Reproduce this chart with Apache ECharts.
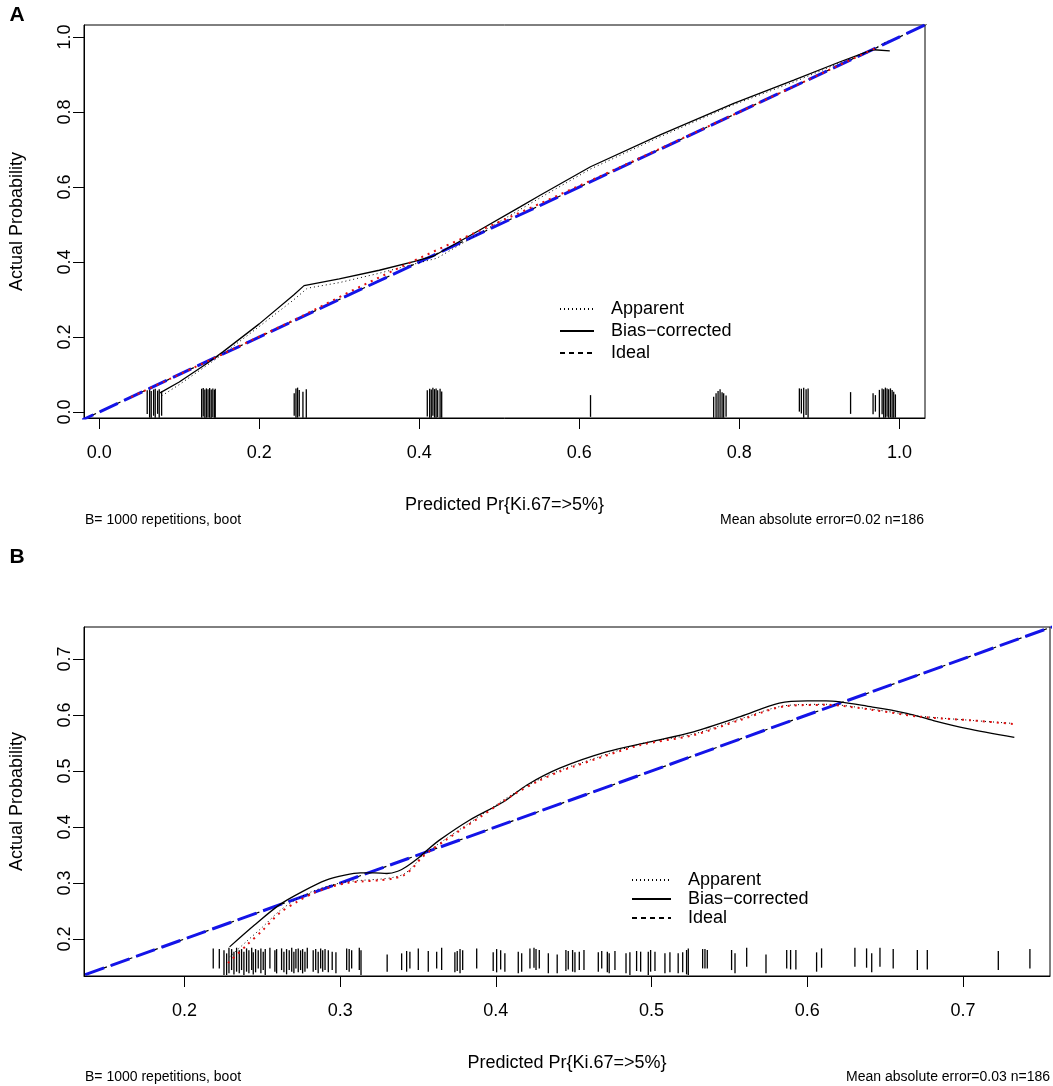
<!DOCTYPE html>
<html>
<head>
<meta charset="utf-8">
<title>Calibration curves</title>
<script src="https://cdn.jsdelivr.net/npm/echarts@6/dist/echarts.min.js"></script>
<style>
  html, body { margin: 0; padding: 0; background: #fff; }
  #chart { width: 1053px; height: 1086px; }
</style>
</head>
<body>
<div id="chart"></div>
<script>
// tick labels
const ticksA = [0, 0.2, 0.4, 0.6, 0.8, 1.0];
const ticksB = [0.2, 0.3, 0.4, 0.5, 0.6, 0.7];

// panel A: [predicted, actual]
const apparentA = [
  [0.078, 0.043], [0.10, 0.073], [0.135, 0.125], [0.155, 0.155], [0.20, 0.228],
  [0.243, 0.299], [0.26, 0.33], [0.30, 0.345], [0.35, 0.37], [0.396, 0.396],
  [0.422, 0.41], [0.47, 0.47], [0.526, 0.54], [0.55, 0.57], [0.614, 0.648],
  [0.70, 0.733], [0.79, 0.817], [0.868, 0.88], [0.93, 0.935], [0.96, 0.958], [0.986, 0.99]
];
const biasA = [
  [0.076, 0.051], [0.10, 0.08], [0.135, 0.130], [0.155, 0.161], [0.20, 0.235],
  [0.243, 0.312], [0.256, 0.337], [0.30, 0.355], [0.35, 0.378], [0.393, 0.401],
  [0.418, 0.416], [0.468, 0.476], [0.526, 0.547], [0.551, 0.578], [0.614, 0.654],
  [0.701, 0.739], [0.793, 0.823], [0.868, 0.885], [0.926, 0.934], [0.96, 0.961],
  [0.968, 0.966], [0.988, 0.963]
];
const redA = [
  [0.04, 0.04], [0.15, 0.15], [0.25, 0.252], [0.32, 0.328], [0.38, 0.39],
  [0.43, 0.44], [0.48, 0.488], [0.55, 0.555], [0.65, 0.652], [0.8, 0.8], [0.97, 0.97]
];
const idealA = [-0.03, 1.05];
// rug: [x, bottom, top]
const rugA = [
  [0.060, -0.005, 0.058], [0.063, -0.015, 0.061], [0.065, -0.015, 0.056], [0.068, -0.010, 0.060],
  [0.070, -0.015, 0.062], [0.073, -0.005, 0.057], [0.075, -0.015, 0.061], [0.078, -0.010, 0.055],
  [0.128, -0.015, 0.062], [0.130, -0.012, 0.064], [0.132, -0.015, 0.060], [0.134, -0.015, 0.063],
  [0.136, -0.014, 0.061], [0.138, -0.015, 0.064], [0.140, -0.015, 0.060], [0.142, -0.013, 0.063],
  [0.144, -0.015, 0.059], [0.145, -0.015, 0.062],
  [0.2437, -0.010, 0.050], [0.2459, -0.015, 0.063], [0.2479, -0.015, 0.065], [0.2500, -0.012, 0.059],
  [0.2546, -0.015, 0.054], [0.2588, -0.015, 0.061],
  [0.410, -0.012, 0.058], [0.413, -0.015, 0.062], [0.415, -0.015, 0.060], [0.417, -0.010, 0.065],
  [0.419, -0.015, 0.061], [0.421, -0.015, 0.063], [0.423, -0.014, 0.058], [0.426, -0.015, 0.062],
  [0.428, -0.015, 0.055],
  [0.614, -0.013, 0.045],
  [0.7679, -0.015, 0.041], [0.7709, -0.015, 0.050], [0.7734, -0.015, 0.056], [0.7759, -0.015, 0.061],
  [0.7784, -0.015, 0.053], [0.7804, -0.015, 0.050], [0.7834, -0.0125, 0.044],
  [0.8750, 0.001, 0.063], [0.8775, -0.004, 0.062], [0.8804, -0.015, 0.065], [0.8834, -0.008, 0.061],
  [0.8859, -0.015, 0.063],
  [0.939, -0.005, 0.053],
  [0.9671, -0.006, 0.050], [0.9700, 0.001, 0.045], [0.9750, -0.015, 0.059], [0.9784, -0.006, 0.063],
  [0.9804, -0.015, 0.061], [0.9825, -0.015, 0.065], [0.9846, -0.0125, 0.063], [0.9866, -0.015, 0.061],
  [0.9888, -0.015, 0.063], [0.9909, -0.015, 0.059], [0.9929, -0.015, 0.054], [0.9950, -0.015, 0.047]
];

// panel B
const apparentB = [
  [0.229, 0.168], [0.240, 0.196], [0.250, 0.221], [0.261, 0.250], [0.272, 0.271],
  [0.283, 0.286], [0.294, 0.296], [0.304, 0.302], [0.315, 0.305], [0.326, 0.307],
  [0.334, 0.310], [0.341, 0.316], [0.347, 0.330], [0.353, 0.349], [0.368, 0.379],
  [0.390, 0.420], [0.411, 0.459], [0.428, 0.485], [0.441, 0.501], [0.450, 0.510],
  [0.4925, 0.548], [0.527, 0.566], [0.557, 0.593], [0.587, 0.617], [0.612, 0.619],
  [0.642, 0.610], [0.672, 0.598], [0.707, 0.590], [0.732, 0.585]
];
const biasB = [
  [0.229, 0.186], [0.245, 0.225], [0.261, 0.261], [0.276, 0.285], [0.291, 0.305],
  [0.303, 0.314], [0.313, 0.318], [0.322, 0.318], [0.330, 0.317], [0.337, 0.321],
  [0.343, 0.330], [0.350, 0.344], [0.356, 0.359], [0.364, 0.377], [0.383, 0.412],
  [0.405, 0.445], [0.420, 0.475], [0.441, 0.505], [0.471, 0.534], [0.499, 0.552],
  [0.527, 0.570], [0.557, 0.597], [0.582, 0.621], [0.600, 0.625], [0.612, 0.625],
  [0.642, 0.614], [0.664, 0.603], [0.681, 0.590], [0.702, 0.576], [0.733, 0.560]
];
const redB = [
  [0.228, 0.157], [0.240, 0.189], [0.250, 0.215], [0.261, 0.246], [0.272, 0.266],
  [0.283, 0.282], [0.294, 0.293], [0.304, 0.300], [0.315, 0.303], [0.326, 0.305],
  [0.334, 0.308], [0.341, 0.314], [0.347, 0.328], [0.353, 0.347], [0.368, 0.377],
  [0.390, 0.418], [0.411, 0.457], [0.428, 0.483], [0.441, 0.499], [0.450, 0.508],
  [0.4925, 0.546], [0.527, 0.564], [0.557, 0.591], [0.587, 0.616], [0.612, 0.618],
  [0.642, 0.609], [0.672, 0.597], [0.707, 0.590], [0.732, 0.584]
];
const idealB = [0.12, 0.77];
const rugB = [
  [0.2185, 0.1476, 0.1833], [0.2224, 0.1476, 0.1821], [0.2254, 0.1357, 0.1798], [0.2271, 0.1357, 0.1744],
  [0.2286, 0.1387, 0.1845], [0.2303, 0.1446, 0.1821], [0.2318, 0.1369, 0.1774], [0.2335, 0.1417, 0.1845],
  [0.2352, 0.1387, 0.1798], [0.2367, 0.1446, 0.1821], [0.2382, 0.1357, 0.1774], [0.2399, 0.1417, 0.1833],
  [0.2414, 0.1387, 0.1798], [0.2432, 0.1446, 0.1845], [0.2442, 0.1369, 0.1762], [0.2457, 0.1405, 0.1821],
  [0.2474, 0.1476, 0.1798], [0.2491, 0.1387, 0.1833], [0.2506, 0.1446, 0.1774], [0.2519, 0.1357, 0.1821],
  [0.2549, 0.1476, 0.1845], [0.2581, 0.1417, 0.1798], [0.2592, 0.1387, 0.1821], [0.2624, 0.1446, 0.1833],
  [0.2639, 0.1405, 0.1774], [0.2656, 0.1369, 0.1821], [0.2673, 0.1446, 0.1798], [0.2689, 0.1417, 0.1845],
  [0.2703, 0.1387, 0.1774], [0.2716, 0.1476, 0.1821], [0.2731, 0.1405, 0.1833], [0.2746, 0.1446, 0.1798],
  [0.2759, 0.1387, 0.1821], [0.2774, 0.1417, 0.1774], [0.2789, 0.1476, 0.1845], [0.2827, 0.1417, 0.1798],
  [0.2843, 0.1446, 0.1821], [0.2859, 0.1387, 0.1774], [0.2875, 0.1476, 0.1833], [0.2888, 0.1417, 0.1798],
  [0.2903, 0.1446, 0.1821], [0.2924, 0.1405, 0.1798], [0.2949, 0.1446, 0.1774], [0.2973, 0.1387, 0.1762],
  [0.3042, 0.1446, 0.1833], [0.3058, 0.1417, 0.1821], [0.3074, 0.1476, 0.1798], [0.3123, 0.1446, 0.1845],
  [0.3134, 0.1357, 0.1798], [0.3302, 0.1417, 0.1726], [0.3395, 0.1446, 0.1744], [0.3427, 0.1417, 0.1786],
  [0.3448, 0.1476, 0.1774], [0.3502, 0.1446, 0.1833], [0.3566, 0.1417, 0.1786], [0.3620, 0.1476, 0.1774],
  [0.3652, 0.1446, 0.1845], [0.3737, 0.1405, 0.1762], [0.3752, 0.1429, 0.1786], [0.3770, 0.1387, 0.1821],
  [0.3787, 0.1446, 0.1798], [0.3877, 0.1476, 0.1833], [0.3983, 0.1429, 0.1762], [0.4005, 0.1405, 0.1821],
  [0.4031, 0.1458, 0.1798], [0.4058, 0.1417, 0.1744], [0.4144, 0.1387, 0.1774],
  [0.4166, 0.1417, 0.1744], [0.4219, 0.1476, 0.1833], [0.4245, 0.1488, 0.1845], [0.4258, 0.1446, 0.1821],
  [0.4279, 0.1476, 0.1804], [0.4337, 0.1387, 0.1744], [0.4394, 0.1387, 0.1726], [0.4450, 0.1429, 0.1804],
  [0.4465, 0.1458, 0.1786], [0.4493, 0.1417, 0.1804], [0.4508, 0.1405, 0.1762], [0.4536, 0.1446, 0.1774],
  [0.4566, 0.1446, 0.1804], [0.4658, 0.1417, 0.1762], [0.4680, 0.1476, 0.1786], [0.4716, 0.1405, 0.1774],
  [0.4728, 0.1387, 0.1744], [0.4765, 0.1446, 0.1786], [0.4836, 0.1387, 0.1744], [0.4861, 0.1357, 0.1762],
  [0.4904, 0.1429, 0.1786], [0.4930, 0.1417, 0.1774], [0.4979, 0.1357, 0.1774], [0.4994, 0.1417, 0.1804],
  [0.5022, 0.1429, 0.1774], [0.5086, 0.1387, 0.1744], [0.5118, 0.1405, 0.1762], [0.5171, 0.1387, 0.1744],
  [0.5200, 0.1405, 0.1762], [0.5225, 0.1369, 0.1804], [0.5236, 0.1357, 0.1833], [0.5328, 0.1476, 0.1821],
  [0.5343, 0.1476, 0.1821], [0.5358, 0.1476, 0.1804], [0.5514, 0.1446, 0.1804], [0.5536, 0.1387, 0.1744],
  [0.5611, 0.1506, 0.1845], [0.5735, 0.1387, 0.1726], [0.5868, 0.1476, 0.1804], [0.5893, 0.1458, 0.1804],
  [0.5927, 0.1458, 0.1804], [0.6060, 0.1417, 0.1762], [0.6092, 0.1488, 0.1833], [0.6306, 0.1506, 0.1845],
  [0.6381, 0.1488, 0.1833], [0.6414, 0.1405, 0.1744], [0.6467, 0.1506, 0.1845], [0.6552, 0.1476, 0.1821],
  [0.6707, 0.1446, 0.1804], [0.6771, 0.1458, 0.1804], [0.7227, 0.1446, 0.1786], [0.7430, 0.1476, 0.1821]
];

const FONT = '"Liberation Sans", Arial, sans-serif';
const BLUE = '#1414e8';
const RED = '#e01010';
const LEGEND = ['Apparent', 'Bias\u2212corrected', 'Ideal'];

function rugItem(params, api) {
  const p0 = api.coord([api.value(0), api.value(1)]);
  const p1 = api.coord([api.value(0), api.value(2)]);
  return {
    type: 'line',
    shape: { x1: p0[0], y1: p0[1], x2: p1[0], y2: p1[1] },
    style: { stroke: '#000', lineWidth: 1.3 }
  };
}

function makeAxis(gi, range, ticks, type, name, nameGap) {
  const isX = type === 'x';
  return {
    gridIndex: gi,
    type: 'value',
    min: range[0],
    max: range[1],
    axisLine: { show: true, onZero: false, lineStyle: { color: '#000', width: 1 } },
    axisTick: { show: true, length: 11, customValues: ticks, lineStyle: { color: '#000', width: 1 } },
    axisLabel: {
      customValues: ticks,
      formatter: (v) => v.toFixed(1),
      color: '#000',
      fontSize: 18,
      fontFamily: FONT,
      margin: isX ? 26 : 10,
      rotate: isX ? 0 : 90
    },
    splitLine: { show: false },
    name: name,
    nameLocation: 'middle',
    nameGap: nameGap,
    nameTextStyle: { color: '#000', fontSize: 18, fontFamily: FONT }
  };
}

function panelSeries(idx, ideal, apparent, bias, red, rug, smooth) {
  const idealPts = ideal.map((v) => [v, v]);
  return [
    {
      type: 'custom', name: 'rug', xAxisIndex: idx, yAxisIndex: idx,
      renderItem: rugItem, encode: { x: 0, y: [1, 2] }, data: rug, silent: true
    },
    {
      type: 'line', name: 'Ideal', xAxisIndex: idx, yAxisIndex: idx, data: idealPts,
      symbol: 'none', lineStyle: { color: '#000', width: 1.2, type: [5, 4] }, z: 3
    },
    {
      type: 'line', name: 'ideal-blue', xAxisIndex: idx, yAxisIndex: idx, data: idealPts,
      symbol: 'none', lineStyle: { color: BLUE, width: 3, type: [20, 7] }, z: 4
    },
    {
      type: 'line', name: 'Apparent', xAxisIndex: idx, yAxisIndex: idx, data: apparent,
      symbol: 'none', smooth: smooth, lineStyle: { color: '#000', width: 1, type: [1, 3] }, z: 5
    },
    {
      type: 'line', name: 'Bias\u2212corrected', xAxisIndex: idx, yAxisIndex: idx, data: bias,
      symbol: 'none', smooth: smooth, lineStyle: { color: '#000', width: 1.3, type: 'solid' }, z: 5
    },
    {
      type: 'line', name: 'apparent-red', xAxisIndex: idx, yAxisIndex: idx, data: red,
      symbol: 'none', smooth: smooth, lineStyle: { color: RED, width: 2, type: [2, 5] }, z: 6
    }
  ];
}

function legendAt(left, top, gap, width) {
  return {
    data: LEGEND,
    orient: 'vertical',
    left: left,
    top: top,
    padding: 0,
    itemWidth: width,
    itemHeight: 12,
    itemGap: gap,
    selectedMode: false,
    itemStyle: { opacity: 0 },
    textStyle: { color: '#000', fontSize: 18, lineHeight: 18, fontFamily: FONT, padding: [0, 0, 0, 12] }
  };
}

function note(text, x, y, align) {
  return {
    type: 'text',
    x: x, y: y,
    style: { text: text, fill: '#000', font: '14px ' + FONT, textAlign: align, textVerticalAlign: 'middle' }
  };
}

function letter(text, x, y) {
  return {
    type: 'text',
    x: x, y: y,
    style: { text: text, fill: '#000', font: 'bold 21px ' + FONT, textAlign: 'center', textVerticalAlign: 'middle' }
  };
}

const chart = echarts.init(document.getElementById('chart'), null, { renderer: 'canvas' });

const option = {
  animation: false,
  backgroundColor: '#fff',
  textStyle: { fontFamily: FONT },
  grid: [
    { left: 84, top: 25, width: 841, height: 393, show: true, borderColor: '#000', borderWidth: 1 },
    { left: 84, top: 627, width: 966, height: 349, show: true, borderColor: '#000', borderWidth: 1 }
  ],
  xAxis: [
    makeAxis(0, [-0.019, 1.032], ticksA, 'x', 'Predicted Pr{Ki.67=>5%}', 78),
    makeAxis(1, [0.1355, 0.7559], ticksB, 'x', 'Predicted Pr{Ki.67=>5%}', 78)
  ],
  yAxis: [
    makeAxis(0, [-0.016, 1.032], ticksA, 'y', 'Actual Probability', 58),
    makeAxis(1, [0.134, 0.757], ticksB, 'y', 'Actual Probability', 58)
  ],
  legend: [
    legendAt(559, 300, 4, 34),
    legendAt(631, 871, 1, 39)
  ],
  graphic: [
    letter('A', 17, 15),
    letter('B', 17, 557),
    note('B= 1000 repetitions, boot', 85, 520, 'left'),
    note('Mean absolute error=0.02 n=186', 924, 520, 'right'),
    note('B= 1000 repetitions, boot', 85, 1077, 'left'),
    note('Mean absolute error=0.03 n=186', 1050, 1077, 'right')
  ],
  series: [
    ...panelSeries(0, idealA, apparentA, biasA, redA, rugA, false),
    ...panelSeries(1, idealB, apparentB, biasB, redB, rugB, 0.3)
  ]
};

chart.setOption(option);
</script>
</body>
</html>
